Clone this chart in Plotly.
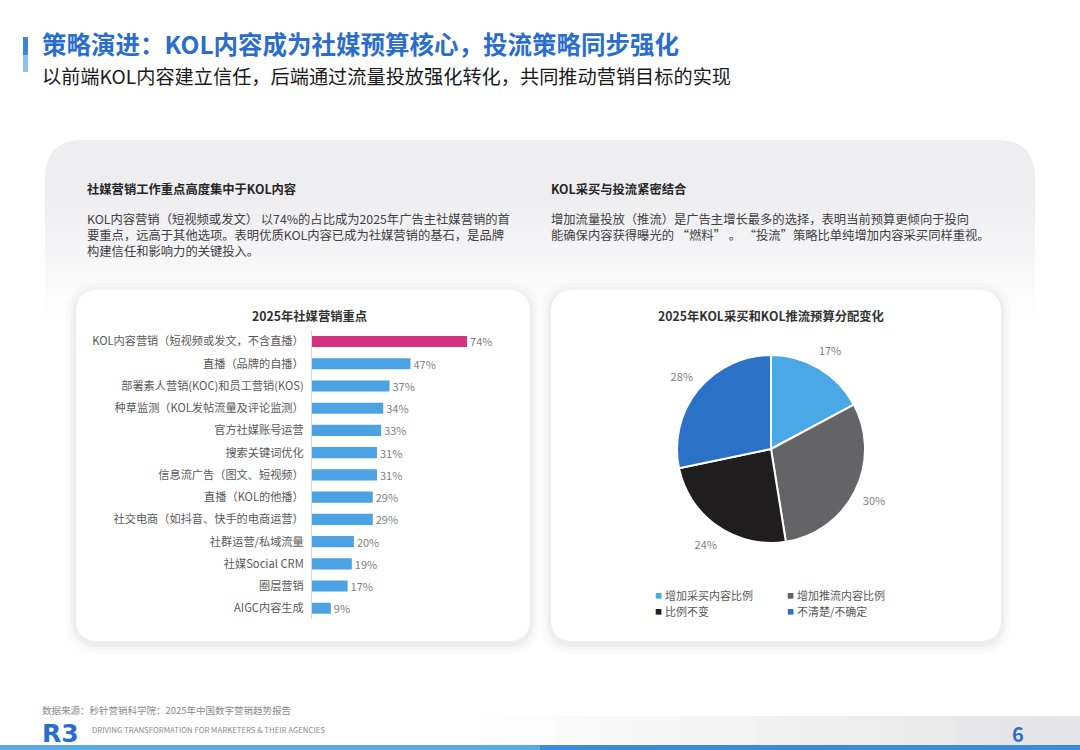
import plotly.graph_objects as go

W, H = 1080, 750
FONT = "Noto Sans CJK SC"

# ---------------- data ----------------
title = "策略演进：KOL内容成为社媒预算核心，投流策略同步强化"
subtitle = "以前端KOL内容建立信任，后端通过流量投放强化转化，共同推动营销目标的实现"

left_heading = "社媒营销工作重点高度集中于KOL内容"
left_para = [
    "KOL内容营销（短视频或发文） 以74%的占比成为2025年广告主社媒营销的首",
    "要重点，远高于其他选项。表明优质KOL内容已成为社媒营销的基石，是品牌",
    "构建信任和影响力的关键投入。",
]
right_heading = "KOL采买与投流紧密结合"
right_para = [
    "增加流量投放（推流）是广告主增长最多的选择，表明当前预算更倾向于投向",
    "能确保内容获得曝光的 “燃料” 。 “投流”策略比单纯增加内容采买同样重视。",
]

bar_title = "2025年社媒营销重点"
bar_categories = [
    "KOL内容营销（短视频或发文，不含直播）",
    "直播（品牌的自播）",
    "部署素人营销(KOC)和员工营销(KOS)",
    "种草监测（KOL发帖流量及评论监测）",
    "官方社媒账号运营",
    "搜索关键词优化",
    "信息流广告（图文、短视频）",
    "直播（KOL的他播）",
    "社交电商（如抖音、快手的电商运营）",
    "社群运营/私域流量",
    "社媒Social CRM",
    "圈层营销",
    "AIGC内容生成",
]
bar_values = [74, 47, 37, 34, 33, 31, 31, 29, 29, 20, 19, 17, 9]

pie_title = "2025年KOL采买和KOL推流预算分配变化"
pie_labels = ["增加采买内容比例", "增加推流内容比例", "比例不变", "不清楚/不确定"]
pie_values = [17, 30, 24, 28]
pie_colors = ["#4aa8e6", "#646467", "#1f1d1d", "#2b72c6"]

source_text = "数据来源：秒针营销科学院：2025年中国数字营销趋势报告"
tagline = "DRIVING TRANSFORMATION FOR MARKETERS & THEIR AGENCIES"
page_no = "6"

# ---------------- helpers ----------------
def X(px):
    return px / W

def Y(py):
    return 1 - py / H

def rr_path(x0, y0, x1, y1, r):
    def p(x, y):
        return f"{X(x):.5f},{Y(y):.5f}"
    return (f"M {p(x0 + r, y0)} L {p(x1 - r, y0)} Q {p(x1, y0)} {p(x1, y0 + r)} "
            f"L {p(x1, y1 - r)} Q {p(x1, y1)} {p(x1 - r, y1)} "
            f"L {p(x0 + r, y1)} Q {p(x0, y1)} {p(x0, y1 - r)} "
            f"L {p(x0, y0 + r)} Q {p(x0, y0)} {p(x0 + r, y0)} Z")

shapes = []
def add_rr(x0, y0, x1, y1, r, fill):
    shapes.append(dict(type="path", xref="paper", yref="paper", path=rr_path(x0, y0, x1, y1, r),
                       fillcolor=fill, line=dict(width=0), layer="below"))

def add_rect(x0, y0, x1, y1, fill, opacity=1.0):
    shapes.append(dict(type="rect", xref="paper", yref="paper", x0=X(x0), x1=X(x1), y0=Y(y1), y1=Y(y0),
                       fillcolor=fill, opacity=opacity, line=dict(width=0), layer="below"))

# big background card (grey, fading to white downward)
add_rr(45, 140, 1035, 400, 38, "#eeeef0")
n = 16
for i in range(n):
    y0 = 200 + i * 8
    add_rect(40, y0, 1040, y0 + 8, "#ffffff", opacity=(i + 1) / n)
add_rect(40, 200 + n * 8, 1040, 410, "#ffffff")

# card shadows + white cards
for (x0, y0, x1, y1) in [(76, 290, 530, 641), (551, 290, 1001, 641)]:
    for e, a in [(10, 0.015), (6, 0.02), (3, 0.03)]:
        add_rr(x0 - e, y0 - e + 3, x1 + e, y1 + e + 3, 22 + e, f"rgba(0,0,0,{a})")
    add_rr(x0, y0, x1, y1, 22, "#ffffff")

# title accent bar
add_rect(23, 37, 28, 55, "#3f86d8")
add_rect(23, 55, 28, 72, "#8fc0ee")

# footer band (grey fading to the left) and blue line
m = 24
for i in range(m):
    x0 = 480 + i * 25
    add_rect(x0, 716, x0 + 25, 745, "#e4e4e6", opacity=(i + 1) / m)
add_rect(0, 745, 540, 750, "#5aaae8")
add_rect(540, 745, 1080, 750, "#3d8ad6")

# ---------------- annotations ----------------
ann = []
def txt(x, y, s, size, color="#333333", bold=False, anchor="left", family=FONT):
    ann.append(dict(x=X(x), y=Y(y), xref="paper", yref="paper", text=(f"<b>{s}</b>" if bold else s),
                    showarrow=False, xanchor=anchor, yanchor="middle", align="left",
                    font=dict(size=size, color=color, family=family)))

txt(40, 44, title, 24.5, "#2a6dcc", bold=True)
txt(40, 76.5, subtitle, 19.2, "#1a1a1a")

txt(85, 189, left_heading, 12.3, "#262626", bold=True)
txt(85, 235, "<br>".join(left_para), 12.3, "#404040")
txt(549, 189, right_heading, 12.3, "#262626", bold=True)
txt(549, 227, "<br>".join(right_para), 12.3, "#404040")

txt(309, 316, bar_title, 12.3, "#333333", bold=True, anchor="center")
txt(771, 316, pie_title, 12.3, "#333333", bold=True, anchor="center")

# manual pie legend (2 columns)
leg_pos = [(658, 595), (790, 595), (658, 611), (790, 611)]
for (lx, ly), lab, col in zip(leg_pos, pie_labels, pie_colors):
    txt(lx, ly, "■", 7, col, anchor="center")
    txt(lx + 5, ly, lab, 11, "#595959")

# footer
txt(40, 710, source_text, 9.5, "#8a8a8a")
txt(40, 733, "R3", 25, "#2a6dcc", bold=True, family="DejaVu Sans")
txt(90, 729, tagline, 7.8, "#8a8a8a")
txt(1018, 733, page_no, 20, "#2a6dcc", bold=True, anchor="center")

# ---------------- traces ----------------
bar_colors = ["#d4317f"] + ["#4ba3e3"] * (len(bar_values) - 1)
bar = go.Bar(
    x=bar_values, y=bar_categories, orientation="h",
    marker=dict(color=bar_colors, line=dict(width=0)), width=0.5,
    text=[f"{v}%" for v in bar_values], textposition="outside", constraintext="none",
    textfont=dict(size=11, color="#7f7f7f", family=FONT),
    cliponaxis=False, hoverinfo="skip", showlegend=False,
)

pcx, pcy, pr = 771, 449, 94
pie = go.Pie(
    values=pie_values, labels=pie_labels, sort=False, direction="clockwise", rotation=0,
    marker=dict(colors=pie_colors, line=dict(color="#ffffff", width=2)),
    textinfo="none", hoverinfo="skip", showlegend=False,
    domain=dict(x=[X(pcx - pr), X(pcx + pr)], y=[Y(pcy + pr), Y(pcy - pr)]),
)
rr_out = 136
ring = go.Pie(
    values=pie_values, labels=pie_labels, sort=False, direction="clockwise", rotation=0,
    marker=dict(colors=["rgba(0,0,0,0)"] * 4, line=dict(width=0)),
    hole=94 / rr_out, text=[f"{v}%" for v in pie_values], textinfo="text",
    textposition="inside", insidetextorientation="horizontal",
    textfont=dict(size=11, color="#7f7f7f", family=FONT),
    hoverinfo="skip", showlegend=False,
    domain=dict(x=[X(pcx - rr_out), X(pcx + rr_out)], y=[Y(pcy + rr_out), Y(pcy - rr_out)]),
)

fig = go.Figure([bar, pie, ring])

row_top, row_bot = 341.5, 608.3
step = (row_bot - row_top) / (len(bar_values) - 1)
fig.update_layout(
    width=W, height=H, margin=dict(l=0, r=0, t=0, b=0),
    paper_bgcolor="#ffffff", plot_bgcolor="rgba(0,0,0,0)",
    font=dict(family=FONT),
    xaxis=dict(domain=[X(312), X(312 + 209.5)], range=[0, 100], visible=False, fixedrange=True),
    yaxis=dict(domain=[Y(row_bot + step / 2), Y(row_top - step / 2)],
               type="category", categoryorder="array", categoryarray=bar_categories,
               range=[len(bar_values) - 0.5, -0.5],
               showline=True, linecolor="#d9d9d9", linewidth=1, showgrid=False, zeroline=False,
               ticks="", ticklabelstandoff=5,
               tickfont=dict(size=11.2, color="#595959", family=FONT), fixedrange=True),
    shapes=shapes, annotations=ann,
)

fig.write_html("out.html", config={"displayModeBar": False},
               post_script="document.body.style.margin='0';document.body.style.padding='0';")
